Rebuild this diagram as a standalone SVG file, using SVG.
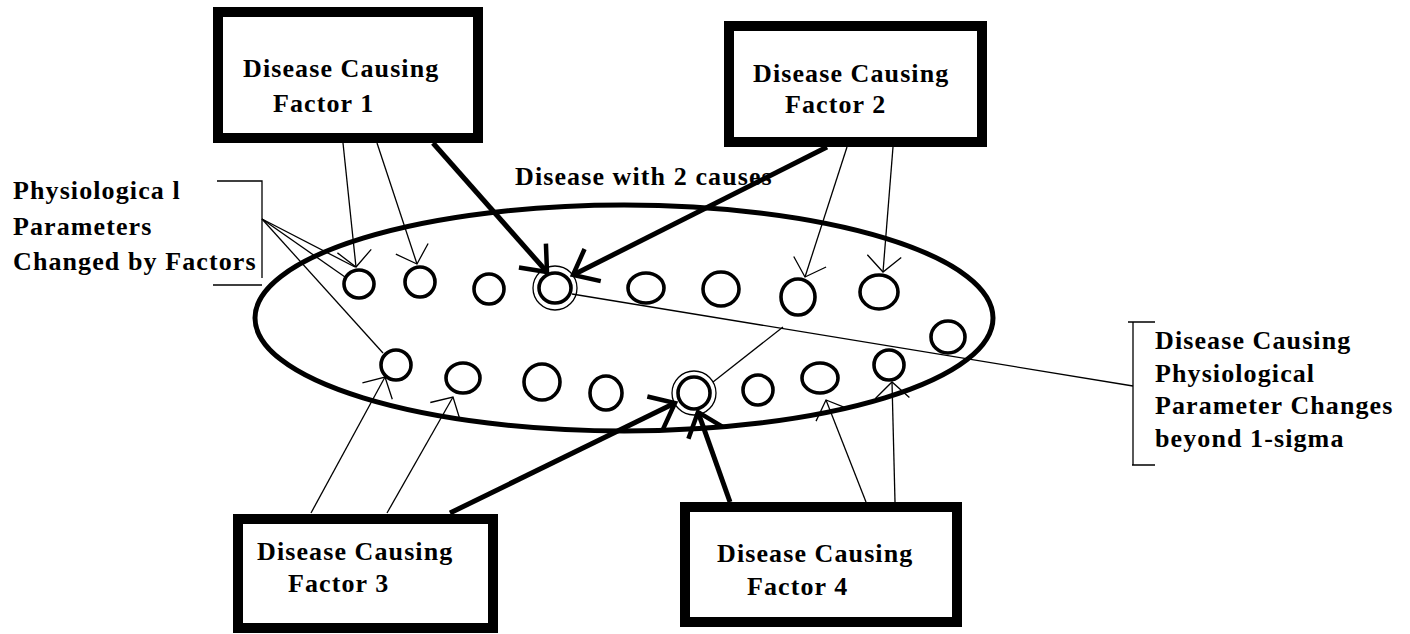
<svg xmlns="http://www.w3.org/2000/svg" width="1410" height="634" viewBox="0 0 1410 634">
<style>
text{font-family:"Liberation Serif","Times New Roman",serif;font-weight:bold;font-size:26px;letter-spacing:1.1px;fill:#000}
.box{fill:#fff;stroke:#000;stroke-width:10}
.p{fill:none;stroke:#000;stroke-width:3.6}
.ring{fill:none;stroke:#000;stroke-width:1.3}
.thin{fill:none;stroke:#000;stroke-width:1.3}
.thick{fill:none;stroke:#000;stroke-width:5}
</style>
<defs>
<marker id="at" viewBox="-25 -25 50 50" markerWidth="50" markerHeight="50" refX="0" refY="0" orient="auto" markerUnits="userSpaceOnUse">
<path d="M-16,-17 L0,0 L-16,17" fill="none" stroke="#000" stroke-width="1.3"/>
</marker>
<marker id="ak" viewBox="-35 -35 70 70" markerWidth="70" markerHeight="70" refX="0" refY="0" orient="auto" markerUnits="userSpaceOnUse">
<path d="M-22,-18 L0,0 L-22,18" fill="none" stroke="#000" stroke-width="4.5"/>
</marker>
</defs>
<rect width="1410" height="634" fill="#fff"/>

<g id="disease">
<ellipse cx="624" cy="318" rx="369" ry="113" fill="none" stroke="#000" stroke-width="5"/>
<text x="515" y="185">Disease with 2 causes</text>
</g>

<g id="params">
<ellipse class="p" cx="359" cy="284" rx="15" ry="14"/>
<ellipse class="p" cx="420" cy="282" rx="15" ry="15"/>
<ellipse class="p" cx="489" cy="289" rx="15" ry="15"/>
<ellipse class="p" cx="555" cy="288" rx="16" ry="15"/>
<circle class="ring" cx="555" cy="288" r="22"/>
<ellipse class="p" cx="646" cy="288" rx="18" ry="15"/>
<ellipse class="p" cx="721" cy="289" rx="18" ry="17"/>
<ellipse class="p" cx="798" cy="297" rx="17" ry="18"/>
<ellipse class="p" cx="879" cy="292" rx="19" ry="17"/>
<ellipse class="p" cx="948" cy="337" rx="17" ry="16"/>
<ellipse class="p" cx="396" cy="365" rx="15" ry="15"/>
<ellipse class="p" cx="463" cy="378" rx="17" ry="15"/>
<ellipse class="p" cx="542" cy="382" rx="18" ry="18"/>
<ellipse class="p" cx="606" cy="393" rx="16" ry="17"/>
<ellipse class="p" cx="694" cy="393" rx="16" ry="16"/>
<circle class="ring" cx="694" cy="393" r="22"/>
<ellipse class="p" cx="758" cy="390" rx="15" ry="15"/>
<ellipse class="p" cx="820" cy="378" rx="18" ry="15"/>
<ellipse class="p" cx="889" cy="365" rx="15" ry="15"/>
</g>

<g id="factor1">
<rect class="box" x="218" y="12" width="260" height="126"/>
<text x="243" y="77">Disease Causing</text>
<text x="273" y="112">Factor 1</text>
</g>
<g id="factor2">
<rect class="box" x="729" y="26" width="253" height="116"/>
<text x="753" y="82">Disease Causing</text>
<text x="785" y="113">Factor 2</text>
</g>
<g id="factor3">
<rect class="box" x="238" y="519" width="255" height="109"/>
<text x="257" y="560">Disease Causing</text>
<text x="288" y="592">Factor 3</text>
</g>
<g id="factor4">
<rect class="box" x="685" y="507" width="272" height="115"/>
<text x="717" y="562">Disease Causing</text>
<text x="747" y="595">Factor 4</text>
</g>

<g id="label-left">
<path class="thin" d="M217,181 H262 V278 M213,285 H262"/>
<text x="13" y="199">Physiologica l</text>
<text x="13" y="235">Parameters</text>
<text x="13" y="270">Changed by Factors</text>
</g>
<g id="label-right">
<path class="thin" d="M1155,322 H1128 M1133,322 V465 M1132,465 H1155"/>
<text x="1155" y="349">Disease Causing</text>
<text x="1155" y="382">Physiological</text>
<text x="1155" y="414">Parameter Changes</text>
<text x="1155" y="447">beyond 1-sigma</text>
</g>

<g id="connectors">
<line class="thin" x1="343" y1="143" x2="356" y2="267" marker-end="url(#at)"/>
<line class="thin" x1="377" y1="143" x2="417" y2="264" marker-end="url(#at)"/>
<line class="thin" x1="847" y1="147" x2="805" y2="277" marker-end="url(#at)"/>
<line class="thin" x1="893" y1="147" x2="883" y2="272" marker-end="url(#at)"/>
<line class="thin" x1="311" y1="513" x2="385" y2="377" marker-end="url(#at)"/>
<line class="thin" x1="387" y1="513" x2="453" y2="397" marker-end="url(#at)"/>
<line class="thin" x1="866" y1="502" x2="826" y2="400" marker-end="url(#at)"/>
<line class="thin" x1="895" y1="502" x2="892" y2="382" marker-end="url(#at)"/>
<line class="thick" x1="433" y1="143" x2="547" y2="272" marker-end="url(#ak)"/>
<line class="thick" x1="827" y1="147" x2="573" y2="275" marker-end="url(#ak)"/>
<line class="thick" x1="450" y1="513" x2="675" y2="403" marker-end="url(#ak)"/>
<line class="thick" x1="730" y1="502" x2="698" y2="412" marker-end="url(#ak)"/>
<line class="thin" x1="262" y1="219" x2="355" y2="267"/>
<line class="thin" x1="262" y1="219" x2="345" y2="277"/>
<line class="thin" x1="262" y1="219" x2="383" y2="353"/>
<line class="thin" x1="572" y1="294" x2="1133" y2="386"/>
<line class="thin" x1="783" y1="327" x2="713" y2="382"/>
</g>
</svg>
